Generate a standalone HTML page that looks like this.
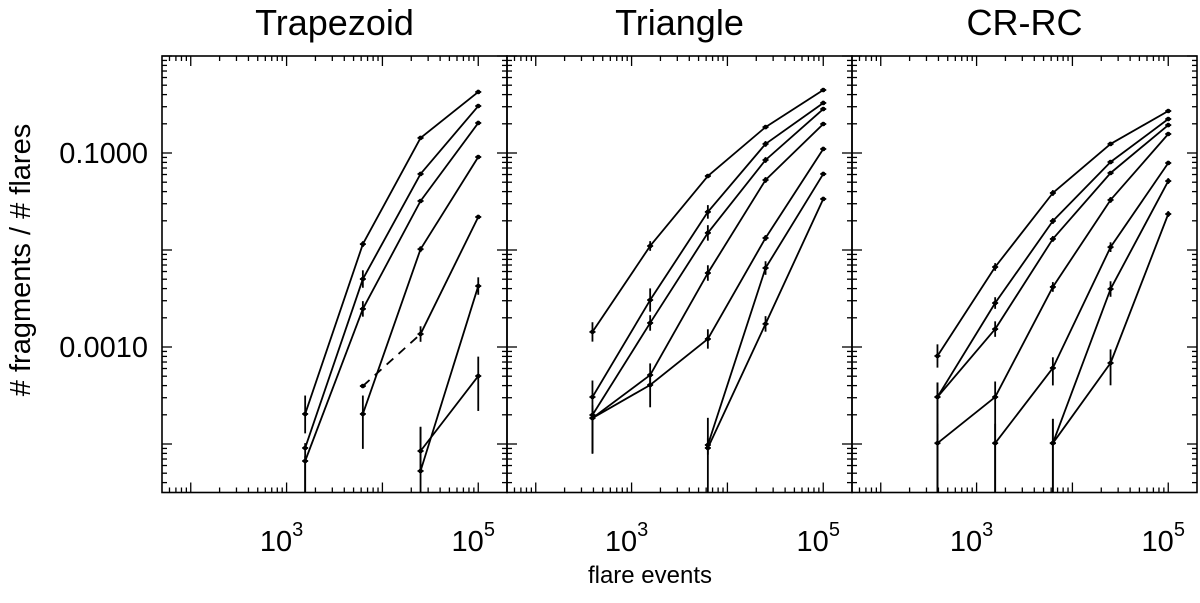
<!DOCTYPE html>
<html><head><meta charset="utf-8"><style>
body{margin:0;background:#fff;width:1200px;height:598px;overflow:hidden}
svg text{font-family:"Liberation Sans",Arial,sans-serif;fill:#000}
</style></head><body>
<svg id="chart" width="1200" height="598" viewBox="0 0 1200 598" xmlns="http://www.w3.org/2000/svg"></svg>
<script>
const xValues = [390.6, 1562.5, 6250, 25000, 100000];
const panelTitles = ["Trapezoid", "Triangle", "CR-RC"];
const xTickLabels = ["3", "5"];
const yTickLabels = ["0.1000", "0.0010"];
// Trapezoid
const trapValues = [
  [null, 0.000204, 0.0115, 0.143, 0.426],
  [null, 0.0000910, 0.00502, 0.0608, 0.305],
  [null, 0.0000668, 0.00247, 0.0320, 0.204],
  [null, null, 0.000204, 0.0102, 0.0909],
  [null, null, 0.000396, 0.00136, 0.0219],
  [null, null, null, 0.0000527, 0.00425],
  [null, null, null, 0.0000847, 0.000502]
];
const trapErrHi = [
  [0,0.19,0.03,0.02,0.02],[0,0.05,0.09,0.02,0.02],[0,0.05,0.08,0.02,0.02],
  [0,0,0.19,0.03,0.02],[0,0,0,0.08,0.02],[0,0,0,0.45,0.09],[0,0,0,0.25,0.2]
];
const trapErrLo = [
  [0,0.2,0.03,0.02,0.02],[0,1,0.09,0.02,0.02],[0,1,0.08,0.02,0.02],
  [0,0,0.36,0.03,0.02],[0,0,0,0.08,0.02],[0,0,0,1,0.09],[0,0,0,0.2,0.36]
];
const trapDashedFirst = [false,false,false,false,true,false,false];
// Triangle
const triValues = [
  [0.00143, 0.0110, 0.0579, 0.185, 0.446],
  [0.000305, 0.00305, 0.0247, 0.124, 0.328],
  [0.000199, 0.00177, 0.0150, 0.0847, 0.284],
  [0.000185, 0.000514, 0.00579, 0.0527, 0.199],
  [0.000185, 0.000406, 0.00121, 0.0133, 0.110],
  [null, null, 0.0000977, 0.00652, 0.0608],
  [null, null, 0.0000910, 0.00173, 0.0336]
];
const triErrHi = [
  [0.1,0.05,0.02,0.02,0.02],[0.17,0.12,0.07,0.03,0.02],[0.1,0.08,0.08,0.03,0.02],
  [0.1,0.12,0.08,0.03,0.02],[0.1,0.1,0.1,0.03,0.02],[0,0,0.28,0.07,0.02],[0,0,0.1,0.08,0.02]
];
const triErrLo = [
  [0.1,0.05,0.02,0.02,0.02],[0.17,0.12,0.07,0.03,0.02],[0.4,0.08,0.08,0.03,0.02],
  [0.36,0.1,0.08,0.03,0.02],[0.36,0.23,0.1,0.03,0.02],[0,0,0.1,0.07,0.02],[0,0,0.6,0.08,0.02]
];
// CR-RC
const crValues = [
  [0.000808, 0.00668, 0.0387, 0.124, 0.271],
  [0.000305, 0.00284, 0.0199, 0.0807, 0.224],
  [0.000305, 0.00153, 0.0130, 0.0622, 0.194],
  [0.000102, 0.000305, 0.00416, 0.0328, 0.157],
  [null, 0.000102, 0.000608, 0.0107, 0.0789],
  [null, null, 0.000102, 0.00396, 0.0514],
  [null, null, 0.000102, 0.000684, 0.0235]
];
const crErrHi = [
  [0.12,0.04,0.03,0.02,0.02],[0.15,0.06,0.03,0.02,0.02],[0.15,0.08,0.03,0.02,0.02],
  [0.2,0.16,0.05,0.03,0.02],[0,0.2,0.11,0.05,0.02],[0,0,0.25,0.08,0.03],[0,0,0.25,0.14,0.03]
];
const crErrLo = [
  [0.12,0.04,0.03,0.02,0.02],[1,0.06,0.03,0.02,0.02],[1,0.08,0.03,0.02,0.02],
  [1,1,0.05,0.03,0.02],[0,1,0.18,0.05,0.02],[0,0,1,0.08,0.03],[0,0,1,0.23,0.03]
];

const NS = "http://www.w3.org/2000/svg";
const svg = document.getElementById("chart");
const PW = 345, TOP = 56, BOT = 492.5, XMIN = 1.7, XMAX = 5.3, YMIN = -4.5, YMAX = 0;
const panelLefts = [162, 507, 852];
function xs(p, v){ return panelLefts[p] + (Math.log10(v) - XMIN) / (XMAX - XMIN) * PW; }
function ysLog(l){ return TOP + (YMAX - l) / (YMAX - YMIN) * (BOT - TOP); }
function ys(v){ return ysLog(Math.log10(v)); }
function mk(tag, attrs, parent){
  const e = document.createElementNS(NS, tag);
  for (const k in attrs) e.setAttribute(k, attrs[k]);
  (parent || svg).appendChild(e);
  return e;
}
function clampY(y){ return Math.max(TOP, Math.min(BOT, y)); }

const panels = [
  {vals: trapValues, hi: trapErrHi, lo: trapErrLo, dash: trapDashedFirst},
  {vals: triValues, hi: triErrHi, lo: triErrLo, dash: null},
  {vals: crValues, hi: crErrHi, lo: crErrLo, dash: null}
];

panels.forEach((pd, p) => {
  const L = panelLefts[p], R = L + PW;
  const g = mk("g", {});
  
  
  const frame = mk("rect", {x: L, y: TOP, width: PW, height: BOT - TOP, fill: "none", stroke: "#000", "stroke-width": 1.6}, g);
  
  
  const tg = mk("g", {stroke: "#000", "stroke-width": 1.3}, g);
  
  
  for (let d = 1; d <= 5; d++) {
    for (let m = 1; m <= 9; m++) {
      const lv = d + Math.log10(m);
      if (lv < XMIN || lv > XMAX) continue;
      const x = xs(p, Math.pow(10, lv));
      const len = m === 1 ? 10 : 5;
      mk("line", {x1: x, y1: BOT, x2: x, y2: BOT - len}, tg);
      mk("line", {x1: x, y1: TOP, x2: x, y2: TOP + len}, tg);
    }
  }
  for (let d = -5; d <= 0; d++) {
    for (let m = 1; m <= 9; m++) {
      const lv = d + Math.log10(m);
      if (lv < YMIN || lv > YMAX) continue;
      const y = ysLog(lv);
      const len = m === 1 ? 10 : 5;
      mk("line", {x1: L, y1: y, x2: L + len, y2: y}, tg);
      mk("line", {x1: R, y1: y, x2: R - len, y2: y}, tg);
    }
  }
  const t = mk("text", {x: L + PW / 2, y: 35, "text-anchor": "middle", "font-size": 36}, g);
  t.textContent = panelTitles[p];
  
  
  xTickLabels.forEach(e => {
    const x = xs(p, Math.pow(10, +e));
    const tl = mk("text", {x: x - 5, y: 551, "text-anchor": "middle", "font-size": 29}, g);
    tl.textContent = "10";
    const sup = mk("tspan", {dy: -15, "font-size": 20}, tl);
    sup.textContent = e;
    
    
  });
  pd.vals.forEach((ser, s) => {
    const sg = mk("g", {}, g);
    
    
    let prev = null, segIdx = 0;
    ser.forEach((v, i) => {
      if (v == null) return;
      const x = xs(p, xValues[i]), y = ys(v);
      if (prev) {
        const dashed = pd.dash && pd.dash[s] && segIdx === 0;
        const ln = mk("line", {x1: prev[0], y1: prev[1], x2: x, y2: y, stroke: "#000", "stroke-width": 1.8}, sg);
        if (dashed) ln.setAttribute("stroke-dasharray", "9,7");
        
        
        segIdx++;
      }
      prev = [x, y];
    });
    ser.forEach((v, i) => {
      if (v == null) return;
      const x = xs(p, xValues[i]), y = ys(v), l = Math.log10(v);
      const y1 = clampY(ysLog(l + pd.hi[s][i])), y2 = clampY(ysLog(l - pd.lo[s][i]));
      const eb = mk("line", {x1: x, y1: y1, x2: x, y2: y2, stroke: "#000", "stroke-width": 1.8}, sg);
      
      
      mk("line", {x1: x - 3, y1: y, x2: x + 3, y2: y, stroke: "#000", "stroke-width": 1.8}, sg);
      const pt = mk("circle", {cx: x, cy: y, r: 2.3, fill: "#000"}, sg);
      
      
    });
  });
});

[-1, -3].forEach((l, i) => {
  const t = mk("text", {x: 148, y: ysLog(l) + 10, "text-anchor": "end", "font-size": 29});
  t.textContent = yTickLabels[i];
  
  
});
const yt = mk("text", {x: 0, y: 0, "text-anchor": "middle", "font-size": 29, transform: "translate(30,260) rotate(-90)"});
yt.textContent = "# fragments / # flares";


const xt = mk("text", {x: 650, y: 583, "text-anchor": "middle", "font-size": 24});
xt.textContent = "flare events";


</script>
</body></html>
